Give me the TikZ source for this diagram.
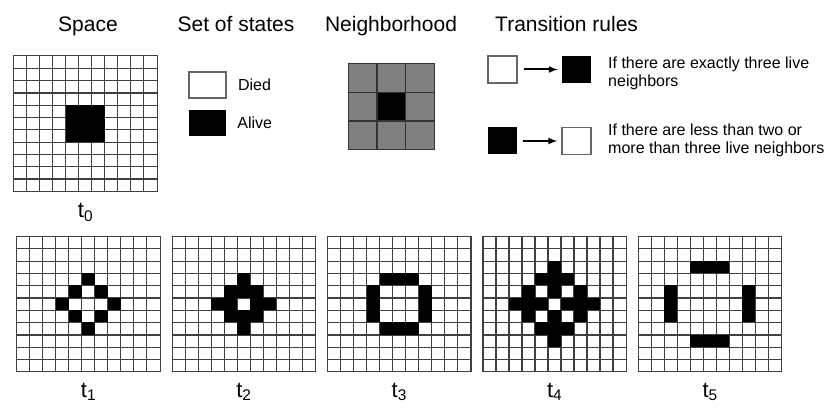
\documentclass[tikz,border=0pt]{standalone}
\usepackage{fontspec}
\setmainfont{Liberation Sans}
\usepackage{tikz}
\usetikzlibrary{arrows}
\usetikzlibrary{positioning}
\tikzstyle{lifegrid} = [
	minimum width=143pt,
	minimum height=135.3pt,
	inner sep=0pt
]
\tikzstyle{gridline} = [black!75, line width=1.2pt]
\tikzstyle{title} = [font=\fontsize{21}{25}\selectfont, inner sep=0pt, anchor=base]
\tikzstyle{steplabel} = [font=\fontsize{22}{26}\selectfont, inner sep=0pt]
\tikzstyle{statebox} = [minimum width=37pt, minimum height=26pt, inner sep=0pt]
\tikzstyle{rulebox} = [minimum width=29pt, minimum height=27pt, inner sep=0pt]
\tikzstyle{smalltext} = [font=\fontsize{16}{18}\selectfont, inner sep=0pt, align=left]

\newcommand{\lifecells}[2]{%
	\draw[gridline, shift={(#1.south west)}, xstep=13, ystep=12.3] (0,0) grid (142.9,135.2);
	\draw[gridline] (#1.south west) rectangle (#1.north east);
	\foreach \cx/\cy in {#2}
		\fill[shift={(#1.north west)}] (\cx*13,-\cy*12.3) rectangle ++(13,-12.3);
}

\begin{document}
\begin{tikzpicture}[x=1pt, y=1pt, auto, node distance=12pt, >=latex']
	\useasboundingbox (0,0) rectangle (837,-414);

	\node[title] (SPACE) at (88,-32) {Space};
	\node[title] (STATES) at (236,-32) {Set of states};
	\node[title] (NEIGH) at (391,-32) {Neighborhood};
	\node[title, anchor=base west] (RULES) at (495,-32) {Transition rules};

	\node[lifegrid] (G0) at (85.5,-123.5) {};
	\lifecells{G0}{4/4,5/4,6/4,4/5,5/5,6/5,4/6,5/6,6/6}
	\node[steplabel, below=12pt of G0] (L0) {t\textsubscript{0}};

	\node[statebox, draw=black!60, line width=1.6pt] (DIED) at (207.5,-85) {};
	\node[statebox, fill=black] (ALIVE) at (207.5,-123) {};
	\node[smalltext, right=11pt of DIED] (DIEDTXT) {Died};
	\node[smalltext, right=11pt of ALIVE] (ALIVETXT) {Alive};

	\node[minimum size=85pt, inner sep=0pt, fill=black!50] (NB) at (391.5,-106.5) {};
	\fill ([xshift=-14.17pt, yshift=-14.17pt]NB.center) rectangle ([xshift=14.17pt, yshift=14.17pt]NB.center);
	\draw[black!80, line width=1.3pt, shift={(NB.south west)}, step=28.333] (0,0) grid (84.9,84.9);
	\draw[black!80, line width=1.3pt] (NB.south west) rectangle (NB.north east);

	\node[rulebox, draw=black!60, line width=1.3pt] (R1A) at (502.5,-69.5) {};
	\node[rulebox, fill=black, right=44pt of R1A] (R1B) {};
	\draw[-latex, line width=2pt, shorten <=6pt, shorten >=4pt] (R1A) -- (R1B);
	\node[smalltext, anchor=north west] (R1TXT) at (608,-57) {If there are exactly three live\\neighbors};

	\node[rulebox, fill=black] (R2A) at (502.5,-141) {};
	\node[rulebox, draw=black!60, line width=1.3pt, right=44pt of R2A] (R2B) {};
	\draw[-latex, line width=2pt, shorten <=6pt, shorten >=4pt] (R2A) -- (R2B);
	\node[smalltext, anchor=north west] (R2TXT) at (608,-124) {If there are less than two or\\more than three live neighbors};

	\node[lifegrid] (T1) at (88.5,-304) {};
	\node[lifegrid, right=of T1] (T2) {};
	\node[lifegrid, right=of T2] (T3) {};
	\node[lifegrid, right=of T3] (T4) {};
	\node[lifegrid, right=of T4] (T5) {};

	\lifecells{T1}{5/3,4/4,6/4,3/5,7/5,4/6,6/6,5/7}
	\lifecells{T2}{5/3,4/4,5/4,6/4,3/5,4/5,6/5,7/5,4/6,5/6,6/6,5/7}
	\lifecells{T3}{4/3,5/3,6/3,3/4,7/4,3/5,7/5,3/6,7/6,4/7,5/7,6/7}
	\lifecells{T4}{5/2,4/3,5/3,6/3,3/4,5/4,7/4,2/5,3/5,4/5,6/5,7/5,8/5,3/6,5/6,7/6,4/7,5/7,6/7,5/8}
	\lifecells{T5}{4/2,5/2,6/2,2/4,2/5,2/6,8/4,8/5,8/6,4/8,5/8,6/8}

	\node[steplabel, below=11pt of T1] (L1) {t\textsubscript{1}};
	\node[steplabel, below=11pt of T2] (L2) {t\textsubscript{2}};
	\node[steplabel, below=11pt of T3] (L3) {t\textsubscript{3}};
	\node[steplabel, below=11pt of T4] (L4) {t\textsubscript{4}};
	\node[steplabel, below=11pt of T5] (L5) {t\textsubscript{5}};

\end{tikzpicture}
\end{document}
